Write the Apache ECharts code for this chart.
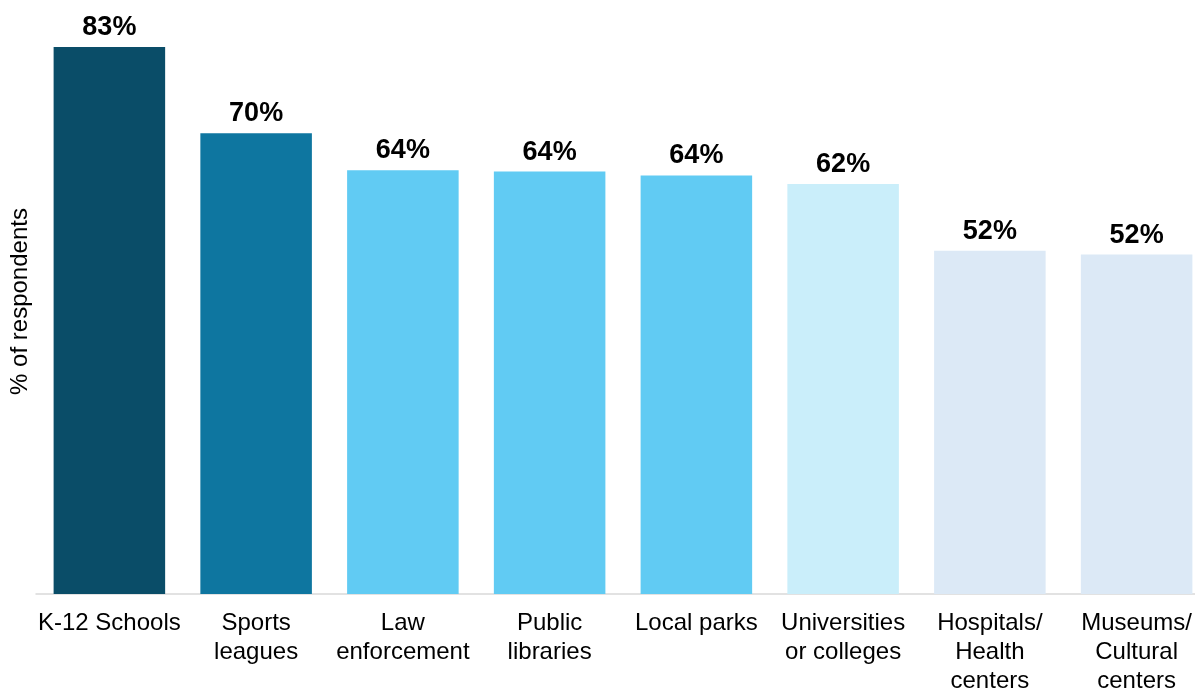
<!DOCTYPE html>
<html><head><meta charset="utf-8">
<script src="https://cdn.jsdelivr.net/npm/echarts@6/dist/echarts.min.js"></script>
<style>html,body{margin:0;padding:0;background:#fff}#c{width:1195px;height:688px}</style>
</head><body><div id="c"></div>
<script>
const categories = ['K-12 Schools', 'Sports\nleagues', 'Law\nenforcement', 'Public\nlibraries', 'Local parks', 'Universities\nor colleges', 'Hospitals/\nHealth\ncenters', 'Museums/\nCultural\ncenters'];
const values = [83, 69.9, 64.3, 64.1, 63.5, 62.2, 52.1, 51.5];
const colors = ['#0a4d68', '#0e76a0', '#61cbf3', '#61cbf3', '#61cbf3', '#caeefa', '#dce9f6', '#dce9f6'];
const chart = echarts.init(document.getElementById('c'));
chart.setOption({
  animation: false,
  grid: { left: 36, right: -15, top: 47, bottom: 94, containLabel: false, outerBoundsMode: 'none' },
  xAxis: {
    type: 'category', data: categories,
    axisLine: { lineStyle: { color: '#d9d9d9', width: 1.5 } },
    axisTick: { show: false },
    axisLabel: { color: '#000', fontSize: 24, fontFamily: 'Liberation Sans, Arial', lineHeight: 29, margin: 15, interval: 0 }
  },
  yAxis: {
    type: 'value', min: 0, max: 83,
    name: '% of respondents', nameLocation: 'middle', nameGap: 4,
    nameTextStyle: { color: '#000', fontSize: 24, fontFamily: 'Liberation Sans, Arial', padding: [0, 0, 0, 38] },
    axisLine: { show: false }, axisTick: { show: false }, axisLabel: { show: false }, splitLine: { show: false }
  },
  series: [{
    type: 'bar', barCategoryGap: '24%',
    data: values.map((v, i) => ({ value: v, itemStyle: { color: colors[i] } })),
    label: { show: true, position: 'top', distance: 6, color: '#000', fontSize: 27, fontWeight: 'bold', fontFamily: 'Liberation Sans, Arial', formatter: p => Math.round(p.value) + '%' }
  }]
});
</script></body></html>
